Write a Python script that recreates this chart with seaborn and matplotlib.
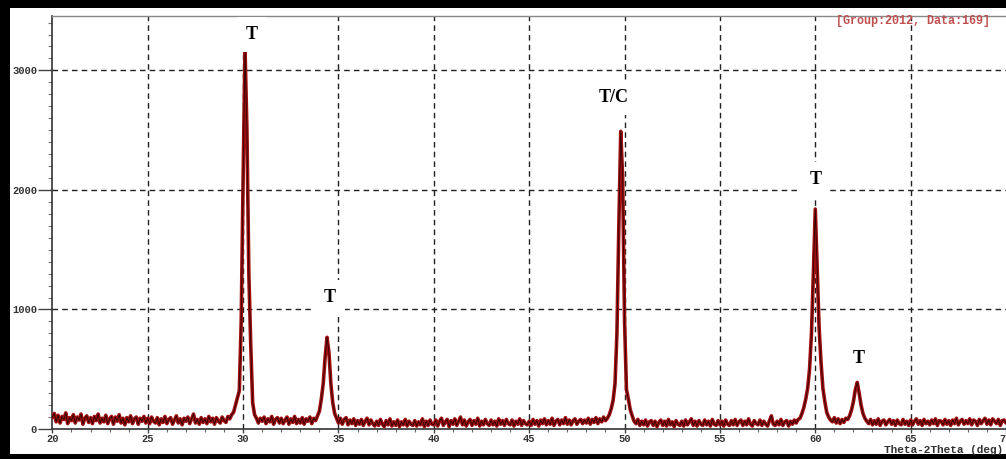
import numpy as np
import pandas as pd
import matplotlib
matplotlib.use("Agg")
import matplotlib.pyplot as plt
from matplotlib.patches import Rectangle
from matplotlib.ticker import MultipleLocator
import seaborn as sns

# ---- data (intensity read at 0.1 deg steps) ----
theta_start, theta_stop, theta_step = 20.0, 70.0, 0.1

intensity_20_30 = [
    95, 130, 60, 115, 50, 105, 80, 135, 45, 95,
    70, 120, 50, 100, 75, 125, 40, 90, 110, 55,
    95, 45, 105, 70, 125, 50, 90, 60, 115, 45,
    85, 105, 40, 100, 65, 120, 50, 90, 35, 95,
    60, 110, 45, 85, 100, 40, 90, 65, 105, 50,
    90, 45, 100, 65, 50, 95, 35, 85, 55, 105,
    45, 80, 95, 40, 75, 110, 50, 85, 35, 90,
    65, 100, 45, 85, 125, 50, 80, 40, 95, 55,
    85, 45, 105, 60, 90, 40, 95, 65, 50, 100,
    70, 55, 105, 85, 120, 140, 200, 260, 320, 900,
]
intensity_30_40 = [
    2100, 3180, 2500, 1300, 700, 220, 120, 90, 50, 90,
    65, 100, 45, 85, 60, 105, 40, 80, 95, 50,
    90, 45, 75, 100, 40, 85, 55, 105, 45, 80,
    50, 95, 40, 85, 65, 100, 45, 90, 70, 110,
    150, 250, 380, 600, 767, 640, 380, 220, 130, 90,
    50, 90, 40, 80, 95, 35, 75, 45, 85, 30,
    70, 40, 80, 30, 65, 90, 35, 75, 45, 25,
    65, 30, 80, 40, 20, 70, 35, 85, 25, 60,
    30, 75, 20, 60, 35, 80, 25, 65, 40, 30,
    70, 25, 60, 35, 85, 20, 65, 30, 75, 40,
]
intensity_40_50 = [
    35, 75, 25, 65, 90, 30, 60, 80, 20, 70,
    40, 85, 30, 65, 100, 35, 75, 25, 60, 80,
    30, 70, 40, 90, 25, 65, 35, 80, 45, 30,
    75, 35, 65, 25, 85, 40, 70, 30, 80, 45,
    35, 75, 25, 65, 40, 85, 30, 70, 45, 35,
    65, 30, 80, 40, 70, 25, 75, 45, 85, 35,
    70, 40, 90, 30, 65, 80, 35, 75, 45, 95,
    40, 75, 35, 70, 85, 40, 65, 80, 45, 75,
    50, 90, 40, 80, 55, 95, 45, 85, 60, 100,
    70, 90, 120, 170, 240, 380, 800, 1700, 2490, 2100,
]
intensity_50_60 = [
    900, 330, 250, 160, 110, 65, 45, 80, 30, 65,
    35, 75, 25, 60, 70, 30, 65, 20, 55, 75,
    30, 65, 25, 80, 35, 60, 20, 70, 40, 30,
    65, 25, 75, 35, 60, 85, 30, 65, 25, 70,
    40, 30, 75, 35, 65, 25, 80, 40, 30, 70,
    35, 65, 25, 75, 40, 30, 70, 35, 80, 30,
    60, 75, 30, 65, 35, 85, 40, 25, 70, 45,
    35, 75, 30, 65, 40, 25, 70, 110, 40, 30,
    65, 35, 80, 30, 60, 70, 25, 65, 40, 75,
    50, 80, 90, 130, 180, 250, 340, 500, 800, 1300,
]
intensity_60_70 = [
    1840, 1350, 850, 560, 340, 230, 140, 100, 75, 60,
    95, 50, 85, 45, 80, 55, 90, 80, 110, 160,
    230, 330, 390, 300, 200, 130, 90, 65, 45, 80,
    35, 70, 40, 85, 30, 65, 75, 35, 60, 80,
    40, 70, 30, 75, 45, 35, 80, 40, 65, 30,
    75, 35, 65, 85, 40, 70, 30, 80, 45, 65,
    35, 75, 45, 85, 30, 70, 65, 35, 80, 40,
    70, 30, 75, 45, 90, 35, 65, 80, 40, 70,
    45, 85, 35, 75, 65, 30, 80, 45, 70, 90,
    40, 75, 35, 85, 65, 45, 80, 30, 70, 75,
    50,
]

peak_labels = ["T", "T", "T/C", "T", "T"]
peak_label_x = [30.45, 34.55, 49.45, 60.0, 62.25]
peak_label_y = [3300, 1100, 2770, 2090, 590]

x_ticks = [20, 25, 30, 35, 40, 45, 50, 55, 60, 65, 70]
y_ticks = [0, 1000, 2000, 3000]
x_label = "Theta-2Theta (deg)"
info_text = "[Group:2012, Data:169]"

intensity = (intensity_20_30 + intensity_30_40 + intensity_40_50
             + intensity_50_60 + intensity_60_70)
two_theta = np.round(theta_start + theta_step * np.arange(len(intensity)), 2)
df = pd.DataFrame({"two_theta": two_theta, "intensity": intensity})

# ---- figure ----
sns.set_theme(style="white")
plt.rcParams["font.family"] = ["DejaVu Sans"]

W, H = 1006, 459
fig = plt.figure(figsize=(W / 100, H / 100), dpi=100, facecolor="black")
# white panel inside black frame
fig.patches.append(Rectangle((10 / W, 5 / H), 1 - 10 / W, (H - 5 - 8) / H,
                             transform=fig.transFigure, facecolor="white",
                             edgecolor="none", zorder=-10))

ax_left, ax_right = 52.4 / W, 1.0
ax_bottom, ax_top = (H - 429) / H, (H - 16) / H
ax = fig.add_axes([ax_left, ax_bottom, ax_right - ax_left, ax_top - ax_bottom])
ax.set_facecolor("white")

sns.lineplot(data=df, x="two_theta", y="intensity", ax=ax, color="#a01010",
             lw=2.6, estimator=None, zorder=3)
sns.lineplot(data=df, x="two_theta", y="intensity", ax=ax, color="black",
             lw=0.6, alpha=0.75, estimator=None, zorder=4)

ax.set_xlim(20, 70)
ax.set_ylim(0, 3455)

# grid
for xv in x_ticks[1:-1]:
    ax.axvline(xv, color="#222222", lw=1.0, ls=(0, (4, 3)), zorder=1)
for yv in y_ticks[1:]:
    ax.axhline(yv, color="#222222", lw=1.0, ls=(0, (4, 3)), zorder=1)

ax.set_xticks(x_ticks)
ax.set_yticks(y_ticks)
ax.xaxis.set_minor_locator(MultipleLocator(1))
ax.yaxis.set_minor_locator(MultipleLocator(100))
mono = ["Liberation Mono", "DejaVu Sans Mono"]
ax.set_xticklabels([str(v) for v in x_ticks], family=mono, fontsize=7.5,
                   fontweight="bold", color="#333333")
ax.set_yticklabels([str(v) for v in y_ticks], family=mono, fontsize=7.5,
                   fontweight="bold", color="#333333")
ax.tick_params(axis="x", which="major", direction="out", length=3,
               width=1, color="#444444", pad=0.5, bottom=True)
ax.tick_params(axis="x", which="minor", direction="out", length=2,
               width=0.8, color="#666666", bottom=True)
ax.tick_params(axis="y", which="major", direction="out", length=10,
               width=1, color="#444444", pad=1, left=True)
ax.tick_params(axis="y", which="minor", direction="out", length=3,
               width=0.8, color="#777777", left=True)
ax.set_xlabel("")
ax.set_ylabel("")

for side in ["left", "bottom"]:
    ax.spines[side].set_color("#333333")
    ax.spines[side].set_linewidth(1.2)
ax.spines["top"].set_color("#888888")
ax.spines["top"].set_linewidth(1.0)
ax.spines["right"].set_visible(False)

# peak labels
for lab, lx, ly in zip(peak_labels, peak_label_x, peak_label_y):
    ax.text(lx, ly, lab, family=["Liberation Serif", "DejaVu Serif"],
            fontsize=13, fontweight="bold", ha="center", va="center",
            color="black", zorder=5,
            bbox=dict(boxstyle="square,pad=0.5", facecolor="white",
                      edgecolor="none"))

fig.text(1003 / W, (H - 450) / H, x_label, family=mono, fontsize=8,
         fontweight="bold", color="#333333", ha="right", va="center")
fig.text(836 / W, (H - 21) / H, info_text, family=mono, fontsize=8.5,
         fontweight="bold", color="#c05050", ha="left", va="center")

fig.savefig("out.png", dpi=100, facecolor=fig.get_facecolor())
